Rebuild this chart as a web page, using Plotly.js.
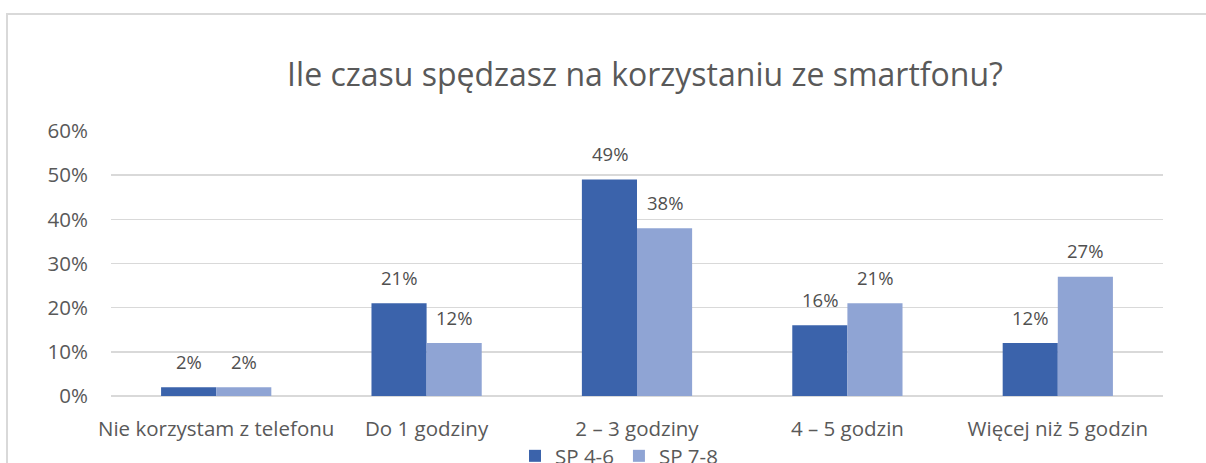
<!DOCTYPE html>
<html>
<head>
<meta charset="utf-8">
<script src="https://cdn.plot.ly/plotly-3.0.1.min.js"></script>
<style>
html,body{margin:0;padding:0;background:#fff;overflow:hidden;}
#chart{width:1206px;height:463px;}
</style>
</head>
<body>
<div id="chart"></div>
<script>
const categories = ["Nie korzystam z telefonu", "Do 1 godziny", "2 – 3 godziny", "4 – 5 godzin", "Więcej niż 5 godzin"];
const seriesNames = ["SP 4-6", "SP 7-8"];
const sp46 = [0.02, 0.21, 0.49, 0.16, 0.12];
const sp78 = [0.02, 0.12, 0.38, 0.21, 0.27];
const titleText = "Ile czasu spędzasz na korzystaniu ze smartfonu?";

const FONT = "'Open Sans', sans-serif";
const W = 1206, H = 463;
const L = 111, R = 43, T = 131, B = 67;
const pw = W - L - R, ph = H - T - B;
const px = v => (v - L) / pw;
const py = v => (H - B - v) / ph;
const BARPX = 55;

function pct(v){ return Math.round(v*100) + "%"; }

const traces = [
  {type:"bar", name:seriesNames[0], x:categories, y:sp46,
   marker:{color:"#3B63AB"}, hoverinfo:"none"},
  {type:"bar", name:seriesNames[1], x:categories, y:sp78,
   marker:{color:"#8FA4D4"}, hoverinfo:"none"}
];

const annotations = [];
[sp46, sp78].forEach((arr, si) => {
  arr.forEach((v, i) => {
    annotations.push({x:categories[i], y:v, xref:"x", yref:"y", text:pct(v),
      showarrow:false, xanchor:"center", yanchor:"middle",
      xshift:(si === 0 ? -1 : 1) * BARPX/2, yshift:26,
      font:{family:FONT, size:18.5, color:"#505050"}});
  });
});

const layout = {
  width:W, height:H,
  margin:{l:L, r:R, t:T, b:B, pad:0, autoexpand:false},
  paper_bgcolor:"#fff", plot_bgcolor:"#fff",
  font:{family:FONT, size:20.5, color:"#595959"},
  title:{text:titleText, font:{family:FONT, size:32, color:"#595959"},
         xref:"paper", x:px(645), xanchor:"center",
         yref:"container", y:1-75/H, yanchor:"middle"},
  barmode:"group", bargap:0.476, bargroupgap:0,
  xaxis:{type:"category", showgrid:false, zeroline:false, showline:false, ticks:"",
         automargin:false,
         ticklabelstandoff:18, tickfont:{family:FONT, size:20.5, color:"#595959"},
         fixedrange:true},
  yaxis:{range:[0,0.6], dtick:0.1, tickformat:".0%", showgrid:true, automargin:false,
         gridcolor:"#D9D9D9", gridwidth:1.5, zeroline:true, zerolinecolor:"#D9D9D9",
         zerolinewidth:1.5, showline:false, ticks:"", ticklabelstandoff:22,
         tickfont:{family:FONT, size:20.5, color:"#595959"}, fixedrange:true},
  showlegend:true,
  legend:{orientation:"h", x:px(619), xanchor:"center", y:py(456), yanchor:"middle",
          font:{family:FONT, size:20.5, color:"#595959"}, itemwidth:30,
          traceorder:"normal", bgcolor:"rgba(0,0,0,0)"},
  annotations:annotations,
  shapes:[
    {type:"rect", xref:"paper", yref:"paper", x0:px(7), x1:px(1215), y0:py(475), y1:py(14),
     line:{color:"#D9D9D9", width:2}, fillcolor:"rgba(0,0,0,0)", layer:"below"}
  ]
};

Plotly.newPlot("chart", traces, layout, {displayModeBar:false, staticPlot:true});
</script>
</body>
</html>
